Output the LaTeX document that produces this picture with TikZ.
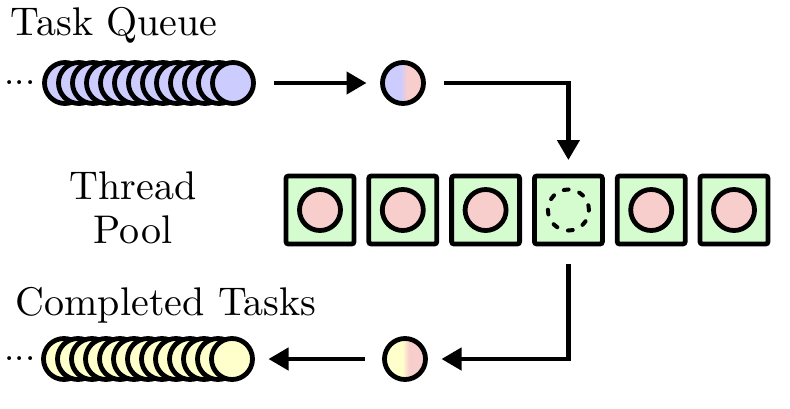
\documentclass[tikz,border=0pt]{standalone}
\usepackage{tikz}
\usetikzlibrary{arrows.meta, positioning}
\definecolor{queuecolor}{RGB}{204, 204, 255}
\definecolor{donecolor}{RGB}{255, 255, 204}
\definecolor{taskcolor}{RGB}{248, 206, 204}
\definecolor{poolcolor}{RGB}{213, 252, 206}
\pgfdeclarehorizontalshading{queuetotask}{100bp}{color(0bp)=(queuecolor); color(47bp)=(queuecolor); color(55bp)=(taskcolor); color(100bp)=(taskcolor)}
\pgfdeclarehorizontalshading{donetotask}{100bp}{color(0bp)=(donecolor); color(47bp)=(donecolor); color(55bp)=(taskcolor); color(100bp)=(taskcolor)}

\begin{document}
\begin{tikzpicture}[
    x=0.25pt, y=0.25pt,
    task/.style={circle, draw, line width=1.2pt, minimum size=10.25pt, inner sep=0pt, outer sep=0pt},
    thread/.style={draw, fill=poolcolor, line width=1.2pt, rounded corners=0.6pt, minimum size=17pt, inner sep=0pt, outer sep=0pt},
    flow/.style={-{Triangle[length=5pt, width=5.5pt]}, line width=1.1pt, shorten <=5pt, shorten >=4pt},
    heading/.style={font=\normalsize, inner sep=0pt},
    dots/.style={font=\small, inner sep=0pt}
]
    \useasboundingbox (0, 0) rectangle (790, 408);

    % Task queue
    \node[heading, anchor=base west] (queuetitle) at (10, 372) {Task Queue};
    \node[dots] (queuedots) at (20, 325) {...};
    \foreach \i in {0,...,12}
        \node[task, fill=queuecolor] (queue\i) at (65+14*\i, 325) {};
    \node[task, shading=queuetotask] (taskin) at (403, 325) {};

    % Thread pool
    \node[heading, align=center] (pooltitle) at (133, 200) {Thread\\[-1pt]Pool};
    \foreach \i in {1,...,6}
        \node[thread] (thread\i) at (320+82.8*\i-82.8, 198) {};
    \foreach \i in {1,2,3,5,6}
        \node[task, fill=taskcolor] (worker\i) at (thread\i) {};
    \node[task, line width=1pt, dash pattern=on 1.2pt off 2.8pt, line cap=round] (worker4) at (thread4) {};

    % Completed tasks
    \node[heading, anchor=base west] (donetitle) at (15, 93) {Completed Tasks};
    \node[dots] (donedots) at (20, 49) {...};
    \foreach \i in {0,...,12}
        \node[task, fill=donecolor] (done\i) at (64+14*\i, 49) {};
    \node[task, shading=donetotask] (taskout) at (405, 49) {};

    % Flow
    \draw[flow] (queue12) -- (taskin);
    \draw[flow] (taskin) -| (thread4);
    \draw[flow] (thread4) |- (taskout);
    \draw[flow] (taskout) -- (done12);

\end{tikzpicture}
\end{document}
